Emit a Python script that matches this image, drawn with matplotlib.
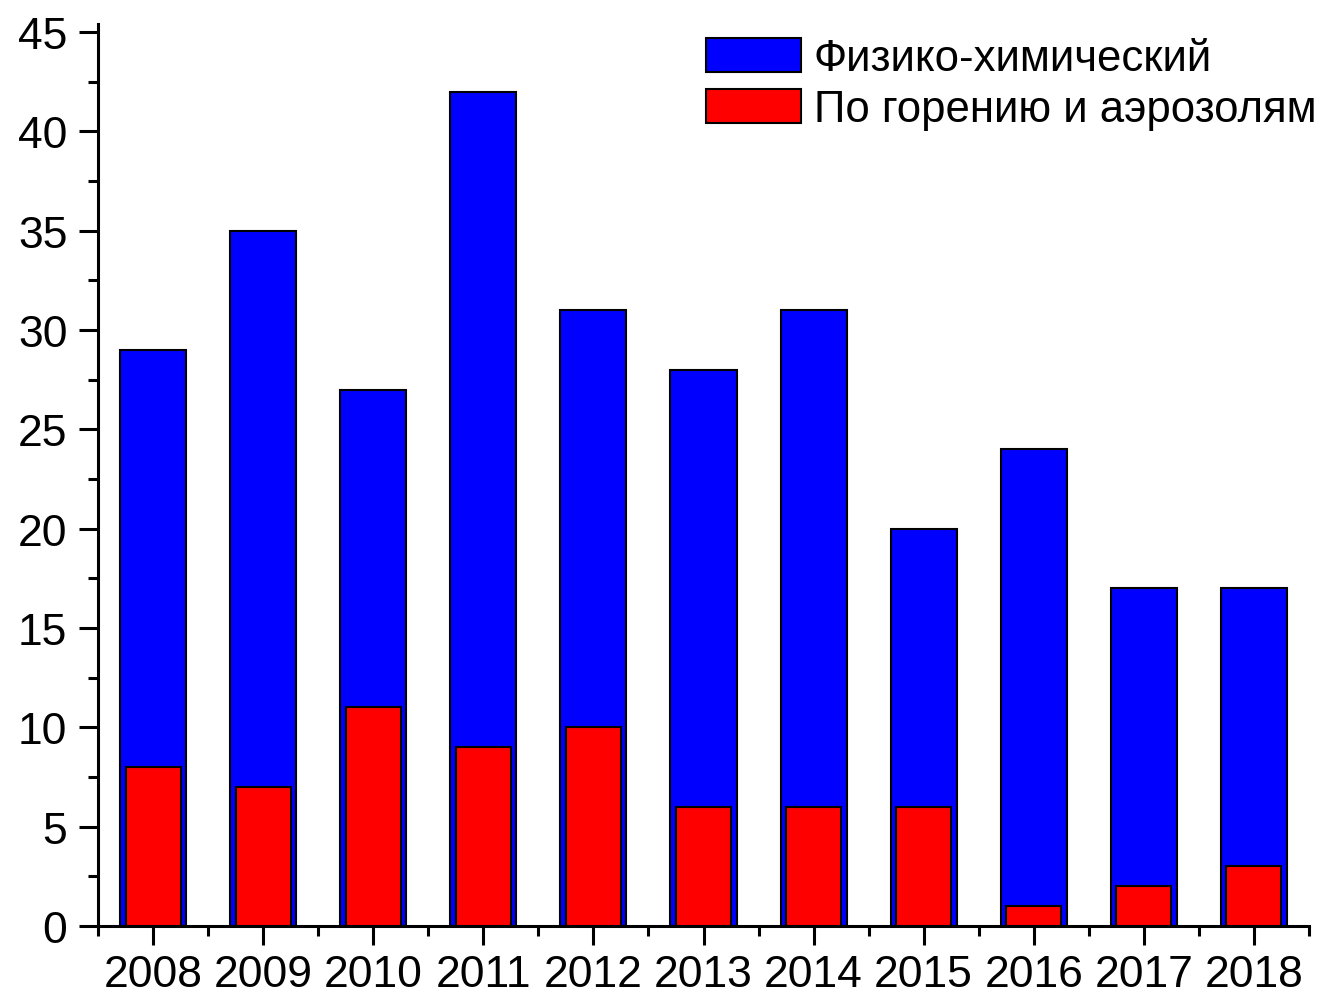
import matplotlib
matplotlib.use("Agg")
import matplotlib.pyplot as plt
from matplotlib.ticker import MultipleLocator

years = [2008, 2009, 2010, 2011, 2012, 2013, 2014, 2015, 2016, 2017, 2018]
physchem = [29, 35, 27, 42, 31, 28, 31, 20, 24, 17, 17]
combustion = [8, 7, 11, 9, 10, 6, 6, 6, 1, 2, 3]
labels = ["Физико-химический", "По горению и аэрозолям"]

plt.rcParams['font.family'] = ['Liberation Sans', 'DejaVu Sans']

fig = plt.figure(figsize=(13.28, 9.95), dpi=100)
ax = fig.add_axes([98/1328, 1-927/995, (1309-98)/1328, (927-25)/995])

ax.bar(years, physchem, width=0.6, color='#0000FF', edgecolor='black', linewidth=1.5, label=labels[0], zorder=2)
ax.bar(years, combustion, width=0.5, color='#FF0000', edgecolor='black', linewidth=1.5, label=labels[1], zorder=3)

ax.set_xlim(2007.5, 2018.5)
ax.set_ylim(0, 45.4)
ax.set_xticks(years)
ax.set_xticklabels([str(y) for y in years])
ax.xaxis.set_minor_locator(MultipleLocator(0.5))
ax.yaxis.set_major_locator(MultipleLocator(5))
ax.yaxis.set_minor_locator(MultipleLocator(2.5))

for s in ['top', 'right']:
    ax.spines[s].set_visible(False)
for s in ['left', 'bottom']:
    ax.spines[s].set_linewidth(2.2)

ax.tick_params(axis='both', which='major', direction='out', length=14, width=2.2, labelsize=32)
ax.tick_params(axis='x', which='major', pad=6)
ax.tick_params(axis='y', which='major', pad=8)
ax.tick_params(axis='both', which='minor', direction='out', length=7.5, width=2.2)

leg = ax.legend(loc='upper left', bbox_to_anchor=((697-98)/1211, 1-(30-25)/902), frameon=False,
                fontsize=31.5, handlelength=2.17, handleheight=0.82, handletextpad=0.3,
                labelspacing=0.22, borderaxespad=0, borderpad=0.2)

fig.savefig("out.png", dpi=100)
